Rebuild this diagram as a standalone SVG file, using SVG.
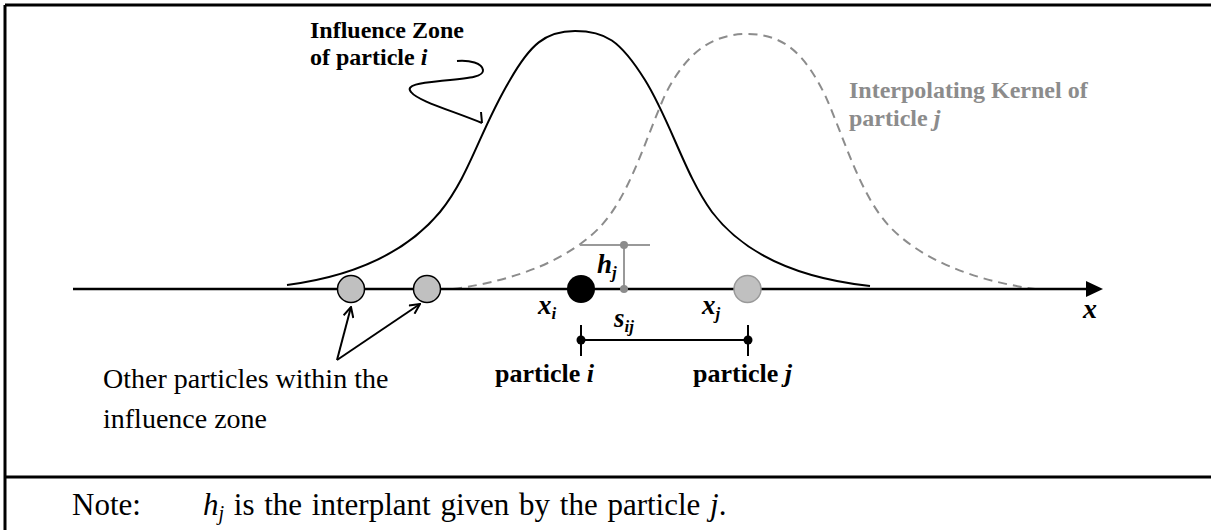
<svg xmlns="http://www.w3.org/2000/svg" width="1211" height="530" viewBox="0 0 1211 530">
<style>
.frame{stroke:#000;stroke-width:3;fill:none}
.bold{font-family:"Liberation Serif","Times New Roman",serif;font-weight:bold;font-size:24px;fill:#000}
.grayt{fill:#8c8c8c}
.reg{font-family:"Liberation Serif","Times New Roman",serif;font-size:28px;fill:#000}
.note{font-family:"Liberation Serif","Times New Roman",serif;font-size:31px;fill:#000}
.var{font-family:"Liberation Serif","Times New Roman",serif;font-weight:bold;font-style:italic;font-size:27px;fill:#000}
.sub{font-size:17px}
.kernel{fill:none;stroke:#000;stroke-width:2}
.kernelj{fill:none;stroke:#8c8c8c;stroke-width:2;stroke-dasharray:9 6}
.conn{fill:none;stroke:#000;stroke-width:2}
.gline{fill:none;stroke:#999;stroke-width:2}
.other{fill:#c0c0c0;stroke:#000;stroke-width:1.5}
</style>
<defs>
<marker id="open" viewBox="0 0 12 12" refX="11" refY="6" markerWidth="12" markerHeight="12" markerUnits="userSpaceOnUse" orient="auto">
<path d="M1,1 L11,6 L1,11" fill="none" stroke="#000" stroke-width="2"/>
</marker>
</defs>
<g id="frame">
<line class="frame" x1="5" y1="5" x2="1211" y2="5"/>
<line class="frame" x1="5" y1="5" x2="5" y2="530"/>
<line class="frame" x1="5" y1="477" x2="1211" y2="477"/>
</g>
<g id="curves">
<path id="influence-zone-i" class="kernel" d="M287,285 C340,278 400,260 440,212 C470,175 480,130 510,80 C530,45 545,31 575,31 C605,31 620,40 645,80 C670,120 685,175 712,212 C750,262 815,280 870,286"/>
<path id="kernel-j" class="kernelj" d="M453,289 C520,280 570,258 600,227 C630,195 645,140 665,95 C685,55 710,34 747,34 C785,34 805,55 825,95 C845,140 860,195 890,227 C920,258 970,280 1035,289"/>
</g>
<g id="axis">
<line x1="73" y1="289" x2="1090" y2="289" stroke="#000" stroke-width="2.5"/>
<polygon points="1086,281 1103,289 1086,297" fill="#000"/>
<text class="var" x="1083" y="318" style="font-size:28px">x</text>
</g>
<g id="connectors">
<path class="conn" d="M457,61 C470,60 482,63 483,70 C484,77 470,78 440,81 C420,83 405,85 411,92 C418,101 450,110 482,123"/>
<path class="conn" d="M481,112 L482,123"/>
<line class="conn" x1="337" y1="360" x2="351" y2="307" marker-end="url(#open)"/>
<line class="conn" x1="337" y1="360" x2="420" y2="304" marker-end="url(#open)"/>
</g>
<g id="hj-marker">
<line class="gline" x1="580" y1="245" x2="650" y2="245"/>
<line class="gline" x1="624" y1="245" x2="624" y2="289"/>
<circle cx="624" cy="245" r="4" fill="#8c8c8c"/>
<circle cx="624" cy="289" r="4" fill="#8c8c8c"/>
<text class="var" x="597" y="273">h<tspan class="sub" dy="5">j</tspan></text>
</g>
<g id="distance-sij">
<line class="conn" x1="581" y1="340" x2="748" y2="340"/>
<line class="conn" x1="581" y1="325" x2="581" y2="356"/>
<line class="conn" x1="748" y1="325" x2="748" y2="356"/>
<circle cx="581" cy="340" r="4.5" fill="#000"/>
<circle cx="748" cy="340" r="4.5" fill="#000"/>
<text class="var" x="614" y="327">s<tspan class="sub" dy="5">ij</tspan></text>
</g>
<g id="particle-other-1"><circle class="other" cx="351" cy="289" r="13.5"/></g>
<g id="particle-other-2"><circle class="other" cx="427" cy="289" r="13.5"/></g>
<g id="particle-i">
<circle cx="581" cy="289" r="14" fill="#000"/>
<text class="var" x="538" y="314">x<tspan class="sub" dy="5">i</tspan></text>
<text class="bold" x="495" y="382" style="font-size:26px">particle <tspan font-style="italic">i</tspan></text>
</g>
<g id="particle-j">
<circle cx="747.5" cy="289" r="13.5" fill="#c0c0c0" stroke="#999" stroke-width="1.5"/>
<text class="var" x="702" y="314">x<tspan class="sub" dy="5">j</tspan></text>
<text class="bold" x="693" y="382" style="font-size:26px">particle <tspan font-style="italic">j</tspan></text>
</g>
<g id="label-influence">
<text class="bold" x="310" y="38">Influence Zone</text>
<text class="bold" x="310" y="65">of particle <tspan font-style="italic">i</tspan></text>
</g>
<g id="label-kernel">
<text class="bold grayt" x="849" y="98">Interpolating Kernel of</text>
<text class="bold grayt" x="849" y="126">particle <tspan font-style="italic">j</tspan></text>
</g>
<g id="label-other">
<text class="reg" x="103" y="388">Other particles within the</text>
<text class="reg" x="103" y="428">influence zone</text>
</g>
<g id="note">
<text class="note" x="72" y="515">Note:</text>
<text class="note" x="203" y="515" word-spacing="2"><tspan font-style="italic">h</tspan><tspan font-style="italic" font-size="20" dy="5">j</tspan><tspan dy="-5"> is the interplant given by the particle </tspan><tspan font-style="italic">j</tspan>.</text>
</g>
</svg>
